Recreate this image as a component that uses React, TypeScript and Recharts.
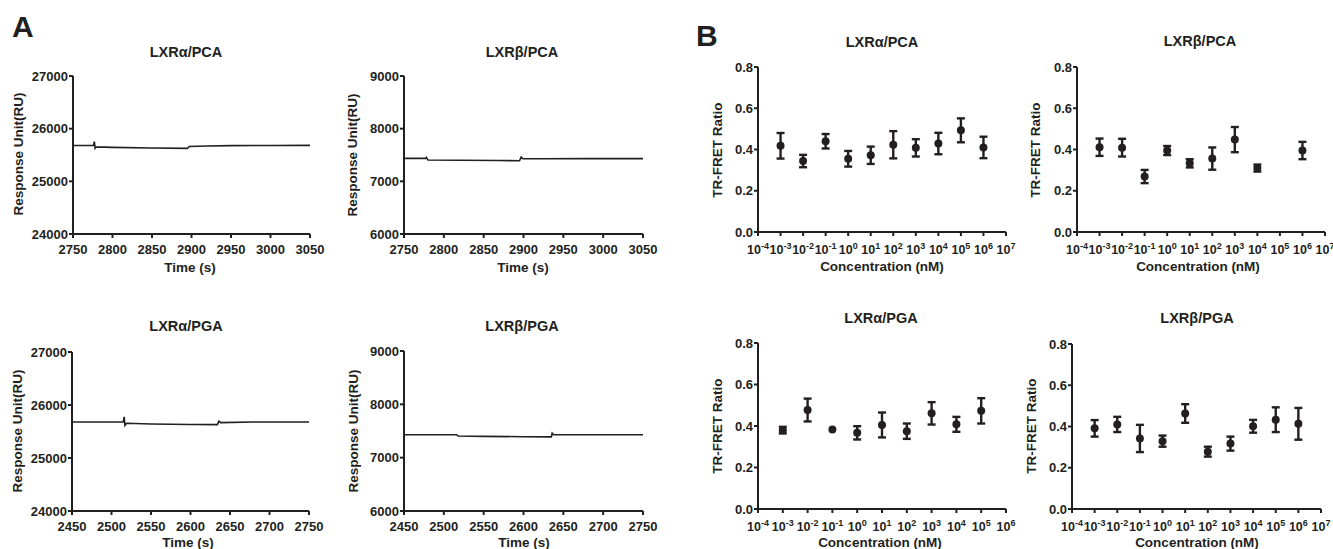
import React from "react";
import { LineChart, Line, XAxis, YAxis, ScatterChart, Scatter, ErrorBar } from "recharts";

const INK = "#231f20";
const FONT = "'Liberation Sans', Arial, Helvetica, sans-serif";

// ---- panel A: SPR sensorgrams (time in s, response in RU) ----
const lxraPcaTime = [2750, 2776, 2777, 2778, 2779, 2800, 2850, 2895, 2897, 2920, 2950, 3000, 3050];
const lxraPcaRU = [25680, 25680, 25755, 25630, 25655, 25645, 25632, 25625, 25660, 25670, 25678, 25680, 25682];

const lxrbPcaTime = [2750, 2777, 2778, 2780, 2820, 2870, 2895, 2897, 2899, 2920, 2980, 3050];
const lxrbPcaRU = [7435, 7435, 7455, 7405, 7400, 7395, 7390, 7460, 7430, 7430, 7432, 7432];

const lxraPgaTime = [2450, 2515, 2516, 2517, 2519, 2550, 2600, 2634, 2636, 2638, 2680, 2750];
const lxraPgaRU = [25680, 25680, 25775, 25615, 25655, 25642, 25632, 25630, 25695, 25668, 25680, 25680];

const lxrbPgaTime = [2450, 2516, 2518, 2550, 2600, 2635, 2636, 2638, 2680, 2750];
const lxrbPgaRU = [7430, 7430, 7405, 7400, 7393, 7390, 7460, 7430, 7430, 7430];

const pcaTimeTicks = [2750, 2800, 2850, 2900, 2950, 3000, 3050];
const pgaTimeTicks = [2450, 2500, 2550, 2600, 2650, 2700, 2750];
const lxraRuTicks = [24000, 25000, 26000, 27000];
const lxrbRuTicks = [6000, 7000, 8000, 9000];

// ---- panel B: TR-FRET (concentration as log10 nM) ----
const concExp = [-3, -2, -1, 0, 1, 2, 3, 4, 5, 6];
const concExpPga = [-3, -2, -1, 0, 1, 2, 3, 4, 5];

const lxraPcaRatio = [0.418, 0.344, 0.44, 0.355, 0.372, 0.423, 0.408, 0.429, 0.493, 0.41];
const lxraPcaSem = [0.062, 0.03, 0.035, 0.038, 0.042, 0.066, 0.042, 0.052, 0.058, 0.052];

const lxrbPcaRatio = [0.411, 0.409, 0.269, 0.395, 0.333, 0.356, 0.448, 0.31, null, 0.395];
const lxrbPcaSem = [0.042, 0.043, 0.032, 0.022, 0.02, 0.054, 0.061, 0.017, null, 0.042];

const lxraPgaRatio = [0.38, 0.477, 0.383, 0.367, 0.405, 0.375, 0.461, 0.408, 0.473];
const lxraPgaSem = [0.016, 0.055, 0, 0.032, 0.06, 0.037, 0.054, 0.036, 0.061];

const lxrbPgaRatio = [0.391, 0.41, 0.342, 0.329, 0.463, 0.278, 0.317, 0.401, 0.433, 0.413];
const lxrbPgaSem = [0.04, 0.037, 0.066, 0.027, 0.045, 0.024, 0.034, 0.031, 0.06, 0.077];

const ratioTicks = [0, 0.2, 0.4, 0.6, 0.8];
const decadeTicks7 = [-4, -3, -2, -1, 0, 1, 2, 3, 4, 5, 6, 7];
const decadeTicks6 = [-4, -3, -2, -1, 0, 1, 2, 3, 4, 5, 6];

// frame around each plot area
const PAD_L = 60;
const PAD_T = 10;
const PAD_R = 26;
const XH = 36;

type Box = { x0: number; y0: number; x1: number; y1: number };

const frame = (b: Box) => ({
  position: "absolute" as const,
  left: b.x0 - PAD_L,
  top: b.y0 - PAD_T,
});
const dims = (b: Box) => ({
  width: PAD_L + (b.x1 - b.x0) + PAD_R,
  height: PAD_T + (b.y1 - b.y0) + XH,
});

const axisLine = { stroke: INK, strokeWidth: 2 };
const tickFont = { fill: INK, fontSize: 13, fontWeight: 700, fontFamily: FONT };

function SprPanel({ box, time, ru, xTicks, yTicks }: {
  box: Box; time: number[]; ru: number[]; xTicks: number[]; yTicks: number[];
}) {
  const data = time.map((t, i) => ({ t, ru: ru[i] }));
  const { width, height } = dims(box);
  return (
    <div style={frame(box)}>
      <LineChart width={width} height={height} data={data}
        margin={{ top: PAD_T, right: PAD_R, bottom: 0, left: 0 }}>
        <XAxis dataKey="t" type="number" domain={[xTicks[0], xTicks[xTicks.length - 1]]}
          ticks={xTicks} height={XH} axisLine={axisLine} tickLine={axisLine}
          tickSize={4} tickMargin={7} tick={tickFont} interval={0} />
        <YAxis type="number" domain={[yTicks[0], yTicks[yTicks.length - 1]]}
          ticks={yTicks} width={PAD_L} axisLine={axisLine} tickLine={axisLine}
          tickSize={4} tickMargin={1} tick={tickFont} interval={0} />
        <Line dataKey="ru" type="linear" stroke={INK} strokeWidth={1.6}
          dot={false} isAnimationActive={false} />
      </LineChart>
    </div>
  );
}

function DecadeTick(props: any) {
  const { x, y, payload } = props;
  return (
    <text x={x} y={y + 15} textAnchor="middle" fill={INK}
      fontFamily={FONT} fontWeight={700} fontSize={12.5}>
      10
      <tspan dy={-5} fontSize={9}>{payload.value}</tspan>
    </text>
  );
}

function FretPanel({ box, conc, ratio, sem, xTicks }: {
  box: Box; conc: number[]; ratio: (number | null)[]; sem: (number | null)[]; xTicks: number[];
}) {
  const data = conc
    .map((c, i) => ({ x: c, y: ratio[i], err: sem[i] }))
    .filter((d) => d.y !== null);
  const { width, height } = dims(box);
  return (
    <div style={frame(box)}>
      <ScatterChart width={width} height={height}
        margin={{ top: PAD_T, right: PAD_R, bottom: 0, left: 0 }}>
        <XAxis dataKey="x" type="number" domain={[xTicks[0], xTicks[xTicks.length - 1]]}
          ticks={xTicks} height={XH} axisLine={axisLine} tickLine={axisLine}
          tickSize={4} tickMargin={3} tick={<DecadeTick />} interval={0} />
        <YAxis dataKey="y" type="number" domain={[0, 0.8]} ticks={ratioTicks}
          width={PAD_L} axisLine={axisLine} tickLine={axisLine} tickSize={4}
          tickMargin={1} tick={tickFont} interval={0}
          tickFormatter={(v: number) => v.toFixed(1)} />
        <Scatter data={data} fill={INK} isAnimationActive={false}
          shape={(p: any) => <circle cx={p.cx} cy={p.cy} r={4} fill={INK} />}>
          <ErrorBar dataKey="err" direction="y" width={4} stroke={INK}
            strokeWidth={2.4} isAnimationActive={false} />
        </Scatter>
      </ScatterChart>
    </div>
  );
}

const boxes = {
  aTL: { x0: 73, y0: 76, x1: 310, y1: 234 },
  aTR: { x0: 404, y0: 76, x1: 643, y1: 234 },
  aBL: { x0: 72, y0: 352, x1: 309, y1: 511 },
  aBR: { x0: 404, y0: 351, x1: 643, y1: 511 },
  bTL: { x0: 758, y0: 67, x1: 1006, y1: 232 },
  bTR: { x0: 1077, y0: 67, x1: 1325, y1: 232 },
  bBL: { x0: 758, y0: 343, x1: 1006, y1: 509 },
  bBR: { x0: 1072, y0: 344, x1: 1321, y1: 509 },
};

const titles = [
  { text: "LXRα/PCA", x: 186, y: 57 },
  { text: "LXRβ/PCA", x: 522, y: 57 },
  { text: "LXRα/PGA", x: 186, y: 331 },
  { text: "LXRβ/PGA", x: 522, y: 331 },
  { text: "LXRα/PCA", x: 882, y: 47 },
  { text: "LXRβ/PCA", x: 1200, y: 46 },
  { text: "LXRα/PGA", x: 881, y: 323 },
  { text: "LXRβ/PGA", x: 1197, y: 323 },
];

const xLabels = [
  { text: "Time (s)", x: 190, y: 272 },
  { text: "Time (s)", x: 523, y: 272 },
  { text: "Time (s)", x: 188, y: 546.5 },
  { text: "Time (s)", x: 524, y: 546.5 },
  { text: "Concentration (nM)", x: 882, y: 271 },
  { text: "Concentration (nM)", x: 1198, y: 271 },
  { text: "Concentration (nM)", x: 880, y: 546.5 },
  { text: "Concentration (nM)", x: 1197, y: 546.5 },
];

const yLabels = [
  { text: "Response Unit(RU)", x: 23, y: 154 },
  { text: "Response Unit(RU)", x: 357, y: 155 },
  { text: "Response Unit(RU)", x: 22, y: 431 },
  { text: "Response Unit(RU)", x: 358, y: 431 },
  { text: "TR-FRET Ratio", x: 722, y: 150 },
  { text: "TR-FRET Ratio", x: 1040, y: 150 },
  { text: "TR-FRET Ratio", x: 722, y: 426 },
  { text: "TR-FRET Ratio", x: 1036, y: 426 },
];

export default function App() {
  return (
    <div style={{ position: "absolute", left: 0, top: 0, width: 1333, height: 549, background: "#fff", overflow: "hidden" }}>
      <SprPanel box={boxes.aTL} time={lxraPcaTime} ru={lxraPcaRU} xTicks={pcaTimeTicks} yTicks={lxraRuTicks} />
      <SprPanel box={boxes.aTR} time={lxrbPcaTime} ru={lxrbPcaRU} xTicks={pcaTimeTicks} yTicks={lxrbRuTicks} />
      <SprPanel box={boxes.aBL} time={lxraPgaTime} ru={lxraPgaRU} xTicks={pgaTimeTicks} yTicks={lxraRuTicks} />
      <SprPanel box={boxes.aBR} time={lxrbPgaTime} ru={lxrbPgaRU} xTicks={pgaTimeTicks} yTicks={lxrbRuTicks} />

      <FretPanel box={boxes.bTL} conc={concExp} ratio={lxraPcaRatio} sem={lxraPcaSem} xTicks={decadeTicks7} />
      <FretPanel box={boxes.bTR} conc={concExp} ratio={lxrbPcaRatio} sem={lxrbPcaSem} xTicks={decadeTicks7} />
      <FretPanel box={boxes.bBL} conc={concExpPga} ratio={lxraPgaRatio} sem={lxraPgaSem} xTicks={decadeTicks6} />
      <FretPanel box={boxes.bBR} conc={concExp} ratio={lxrbPgaRatio} sem={lxrbPgaSem} xTicks={decadeTicks7} />

      <svg width={1333} height={549} style={{ position: "absolute", left: 0, top: 0, pointerEvents: "none" }}
        fontFamily={FONT} fontWeight={700} fill={INK}>
        <text x={12} y={37} fontSize={30}>A</text>
        <text x={696} y={46} fontSize={30}>B</text>
        {titles.map((t, i) => (
          <text key={"t" + i} x={t.x} y={t.y} fontSize={14.5} textAnchor="middle">{t.text}</text>
        ))}
        {xLabels.map((t, i) => (
          <text key={"x" + i} x={t.x} y={t.y} fontSize={13.5} textAnchor="middle">{t.text}</text>
        ))}
        {yLabels.map((t, i) => (
          <text key={"y" + i} x={t.x} y={t.y} fontSize={13.5} textAnchor="middle"
            transform={`rotate(-90 ${t.x} ${t.y})`}>{t.text}</text>
        ))}
      </svg>
    </div>
  );
}
